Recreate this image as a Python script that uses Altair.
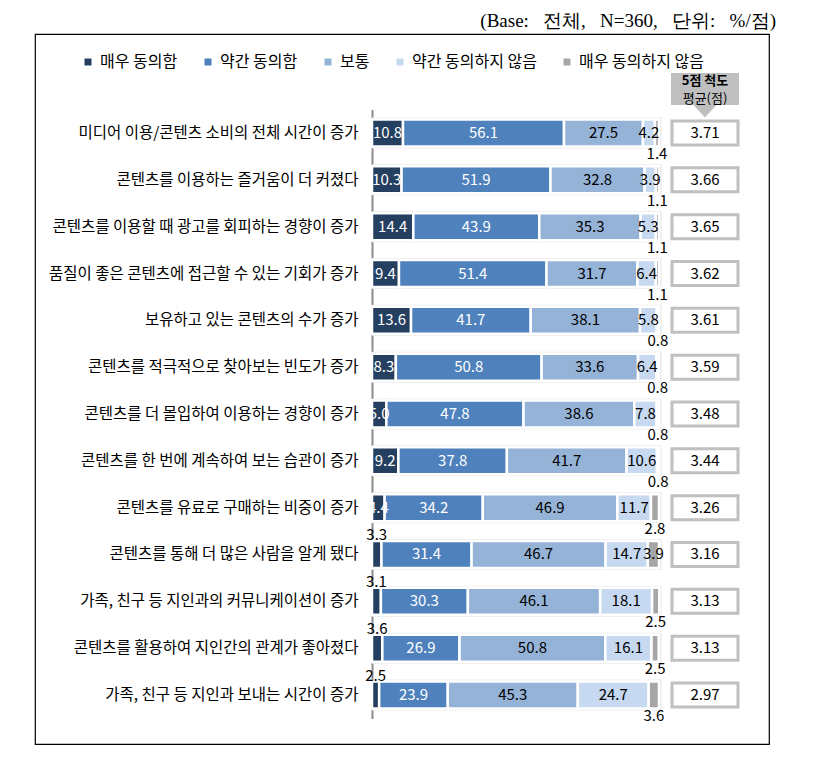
import altair as alt
import pandas as pd

categories = [
    "미디어 이용/콘텐츠 소비의 전체 시간이 증가",
    "콘텐츠를 이용하는 즐거움이 더 커졌다",
    "콘텐츠를 이용할 때 광고를 회피하는 경향이 증가",
    "품질이 좋은 콘텐츠에 접근할 수 있는 기회가 증가",
    "보유하고 있는 콘텐츠의 수가 증가",
    "콘텐츠를 적극적으로 찾아보는 빈도가 증가",
    "콘텐츠를 더 몰입하여 이용하는 경향이 증가",
    "콘텐츠를 한 번에 계속하여 보는 습관이 증가",
    "콘텐츠를 유료로 구매하는 비중이 증가",
    "콘텐츠를 통해 더 많은 사람을 알게 됐다",
    "가족, 친구 등 지인과의 커뮤니케이션이 증가",
    "콘텐츠를 활용하여 지인간의 관계가 좋아졌다",
    "가족, 친구 등 지인과 보내는 시간이 증가",
]
series = ["매우 동의함", "약간 동의함", "보통", "약간 동의하지 않음", "매우 동의하지 않음"]
strongly_agree = [10.8, 10.3, 14.4, 9.4, 13.6, 8.3, 5.0, 9.2, 4.4, 3.3, 3.1, 3.6, 2.5]
agree = [56.1, 51.9, 43.9, 51.4, 41.7, 50.8, 47.8, 37.8, 34.2, 31.4, 30.3, 26.9, 23.9]
neutral = [27.5, 32.8, 35.3, 31.7, 38.1, 33.6, 38.6, 41.7, 46.9, 46.7, 46.1, 50.8, 45.3]
disagree = [4.2, 3.9, 5.3, 6.4, 5.8, 6.4, 7.8, 10.6, 11.7, 14.7, 18.1, 16.1, 24.7]
strongly_disagree = [1.4, 1.1, 1.1, 1.1, 0.8, 0.8, 0.8, 0.8, 2.8, 3.9, 2.5, 2.5, 3.6]
means = [3.71, 3.66, 3.65, 3.62, 3.61, 3.59, 3.48, 3.44, 3.26, 3.16, 3.13, 3.13, 2.97]
header_lines = ["5점 척도", "평균(점)"]
title_text = "(Base:\u00a0\u00a0 전체,\u00a0\u00a0 N=360,\u00a0\u00a0 단위:\u00a0\u00a0 %/점)"

# label placement (style)
first_pos = ["in"] * 9 + ["above"] * 4
last_pos = ["below"] * 9 + ["in"] + ["below"] * 3
colors = ["#243f60", "#4f81bd", "#95b3d7", "#c6d9f1", "#a6a6a6"]

KR = "Noto Sans CJK KR"

values = [strongly_agree, agree, neutral, disagree, strongly_disagree]
rows = []
for i, cat in enumerate(categories):
    start = 0.0
    for j, s in enumerate(series):
        v = values[j][i]
        end = start + v
        if j == 0:
            pos = first_pos[i]
        elif j == len(series) - 1:
            pos = last_pos[i]
        else:
            pos = "in"
        rows.append(dict(cat=cat, series=s, start=start, end=end, mid=(start + end) / 2,
                         value=v, pos=pos, tone="light" if j < 2 else "dark"))
        start = end
df = pd.DataFrame(rows)
mdf = pd.DataFrame({"cat": categories, "mean": means})
cdf = pd.DataFrame({"cat": categories})

y_scale = alt.Scale(range=[75.6, 684.4], paddingInner=0.4235, paddingOuter=0.21175)
y_enc = alt.Y("cat:N", sort=categories, scale=y_scale,
              axis=alt.Axis(title=None, orient="left", offset=-337, ticks=False,
                            labelPadding=14, labelFontSize=15.5, labelFont=KR,
                            labelColor="black", labelLimit=500,
                            domainColor="#8c8c8c", domainWidth=2))
x_scale = alt.Scale(domain=[0, 100], range=[337, 624])

shadow = alt.Chart(cdf).transform_calculate(s0="0", s1="100.9").mark_bar(
    color="#ebebeb", height=31).encode(
    y=y_enc, x=alt.X("s0:Q", scale=x_scale, axis=None), x2="s1:Q")

bars = alt.Chart(df).mark_bar(stroke="white", strokeWidth=2.5).encode(
    x=alt.X("start:Q", scale=x_scale, axis=None),
    x2="end:Q",
    y=y_enc,
    color=alt.Color("series:N", scale=alt.Scale(domain=series, range=colors),
                    legend=alt.Legend(orient="none", legendX=45, legendY=20,
                                      direction="horizontal", columns=5, title=None,
                                      symbolType="square", symbolSize=49,
                                      symbolStrokeWidth=0, labelFontSize=16, labelFont=KR,
                                      labelColor="black", columnPadding=22, labelOffset=4,
                                      labelLimit=300)),
)

def lbl(dy=0):
    return alt.Chart(df).mark_text(font=KR, fontSize=15, baseline="middle", align="center", dy=dy)

def txt():
    return dict(x=alt.X("mid:Q", scale=x_scale, axis=None), y=y_enc,
                text=alt.Text("value:Q", format=".1f"))

white_lbl = lbl().transform_filter("datum.pos == 'in' && datum.tone == 'light'").encode(
    color=alt.value("white"), **txt())
dark_lbl = lbl().transform_filter("datum.pos == 'in' && datum.tone == 'dark'").encode(
    color=alt.value("black"), **txt())
above_lbl = lbl(-19).transform_filter("datum.pos == 'above'").encode(color=alt.value("black"), **txt())
below_lbl = lbl(21).transform_filter("datum.pos == 'below'").encode(color=alt.value("black"), **txt())

boxes = alt.Chart(mdf).mark_bar(fill="white", stroke="#c0c0c0", strokeWidth=3, height=24).encode(
    y=y_enc, x=alt.value(637), x2=alt.value(703))
mean_txt = alt.Chart(mdf).mark_text(font=KR, fontSize=15, color="black").encode(
    y=y_enc, x=alt.value(670), text=alt.Text("mean:Q", format=".2f"))

one = pd.DataFrame({"k": [0]})
hdr_box = alt.Chart(one).mark_rect(color="#bfbfbf").encode(
    x=alt.value(636), x2=alt.value(704), y=alt.value(39), y2=alt.value(71))
hdr_arrow = alt.Chart(one).mark_point(shape="M-1,-0.55L1,-0.55L0,0.55Z", size=576, filled=True,
                                       color="#bfbfbf", opacity=1, strokeWidth=0).encode(
    x=alt.value(670), y=alt.value(77))
hdf1 = pd.DataFrame({"t": [header_lines[0]]})
hdf2 = pd.DataFrame({"t": [header_lines[1]]})
hdr_t1 = alt.Chart(hdf1).mark_text(font=KR, fontSize=13, fontWeight="bold", color="black").encode(
    x=alt.value(670), y=alt.value(47), text="t:N")
hdr_t2 = alt.Chart(hdf2).mark_text(font=KR, fontSize=13, color="black").encode(
    x=alt.value(670), y=alt.value(65), text="t:N")

chart = alt.layer(shadow, bars, white_lbl, dark_lbl, above_lbl, below_lbl,
                  boxes, mean_txt, hdr_box, hdr_arrow, hdr_t1, hdr_t2).properties(
    width=734, height=710,
    title=alt.TitleParams(title_text, anchor="end", font="Liberation Serif, serif", fontSize=19,
                          fontWeight="normal", color="black", offset=3, dx=7),
    autosize=alt.AutoSizeParams(type="none"),
    padding={"left": 27, "top": 26, "right": 20, "bottom": 6},
).configure_view(stroke="black", strokeWidth=1.2)

chart.save("out.html", embed_options={"renderer": "svg", "actions": False})
